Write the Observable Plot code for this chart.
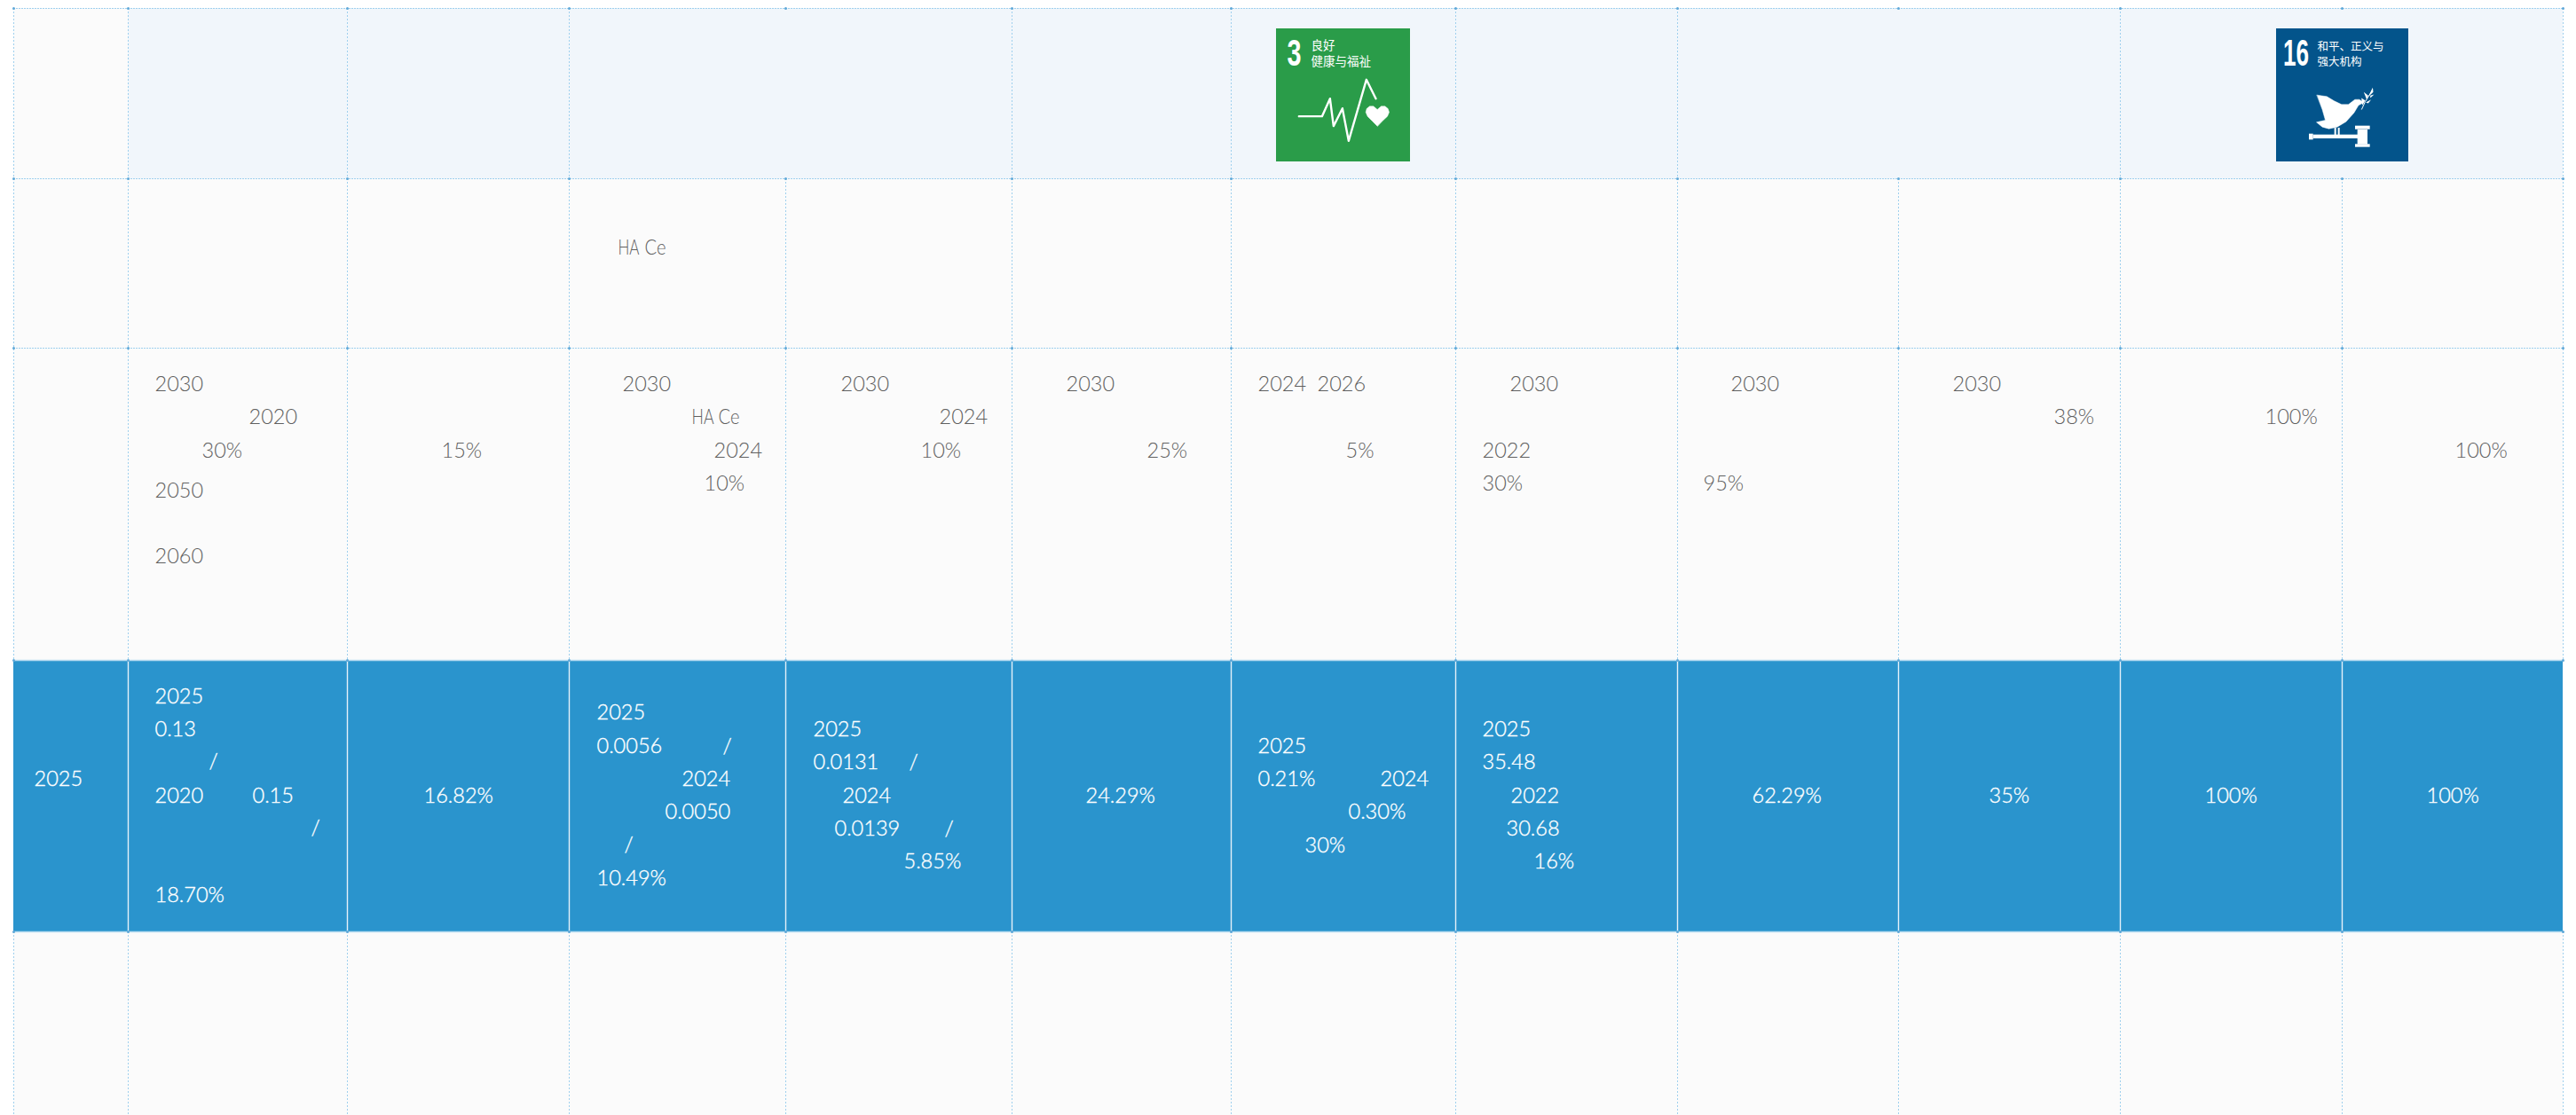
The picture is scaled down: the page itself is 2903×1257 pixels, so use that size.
<!DOCTYPE html>
<html>
<head>
<meta charset="utf-8">
<script src="https://cdn.jsdelivr.net/npm/d3@7"></script>
<script src="https://cdn.jsdelivr.net/npm/@observablehq/plot@0.6"></script>
<style>
html,body{margin:0;padding:0;background:#fff;overflow:hidden}
svg{display:block}
</style>
</head>
<body>
<div id="chart"></div>
<script>
// Table grid edges
const colEdges = [15,144,391,641,885,1140,1387,1640,1890,2139,2389,2639,2888];
const rowEdges = [9,201,392,744,1050,1257];
// Columns whose left edge is drawn in the merged heading row
const headEdges = [15,144,391,641,1140,1387,1640,1890,2389,2888];

// Text in the target rows (grey)
const greyLabels = ["2030","2020","30%","2050","2060","15%","2030","2024","10%","2030","2024","10%","2030","25%","2024","2026","5%","2030","2022","30%","2030","95%","2030","38%","100%","100%"];
const greyLeft   = [174,280,227,174,174,497,701,804,793,947,1058,1037,1201,1292,1417,1484,1516,1701,1670,1670,1950,1919,2200,2314,2552,2766];
const greyMid    = [433,470,508,553,627,508,433,508,545,433,470,508,433,508,433,433,508,433,508,545,433,545,433,470,470,508];
// Narrow "HA Ce" fragments
const narrowLabels = ["HA","Ce","HA","Ce"];
const narrowLeft   = [696,726,779,809];
const narrowMid    = [279,279,470,470];
const narrowSpan   = [24,24,25,24];

// Text in the highlighted 2025 row (white)
const whiteLabels = ["2025","2025","0.13","/","2020","0.15","/","18.70%","16.82%","2025","0.0056","/","2024","0.0050","/","10.49%","2025","0.0131","/","2024","0.0139","/","5.85%","24.29%","2025","0.21%","2024","0.30%","30%","2025","35.48","2022","30.68","16%","62.29%","35%","100%","100%"];
const whiteLeft   = [38,174,174,235,174,284,350,174,477,672,672,814,768,749,703,672,916,916,1024,949,940,1064,1018,1223,1417,1417,1555,1519,1470,1670,1670,1702,1697,1728,1974,2241,2484,2734];
const whiteMid    = [878,785,822,858,897,897,933,1009,897,803,841,841,878,915,952,990,822,859,859,897,934,934,971,897,841,878,878,915,953,822,859,897,934,971,897,897,897,897];

// SDG badges
const badgeBoxes = [
  {x1:1438,x2:1589,y1:32,y2:182,fill:"#2a9c49"},
  {x1:2565,x2:2714,y1:32,y2:182,fill:"#03548b"}
];
const badgeNumbers = [
  {t:"3",x:1458,y:60,s:42,len:16},
  {t:"16",x:2587,y:60,s:42,len:29}
];
const badgeTexts = [
  {t:"良好",x:1477,y:51,s:13.5},
  {t:"健康与福祉",x:1477,y:69,s:13.5},
  {t:"和平、正义与",x:2611,y:52,s:12.5},
  {t:"强大机构",x:2611,y:69,s:12.5}
];
// Badge artwork in the badge's own 3x units
const pulse = [[490,392],[568,392],[595,332],[607,425],[637,365],[658,475],[718,268],[750,332]];
const heart = [[755,425],[738,408],[722,392],[716,378],[719,366],[729,358],[742,358],[755,369],[768,358],[781,358],[791,366],[795,378],[789,392],[772,408]];
const dove  = [[632,320],[665,325],[690,340],[715,352],[738,352],[760,335],[775,335],[790,345],[772,355],[757,380],[730,410],[700,428],[672,434],[650,428],[630,412],[660,405],[650,370]];
const branch = [[783,368],[795,342],[820,302]];
const leaves = [[[800,335],[790,310],[805,322]],[[806,325],[820,295],[822,310]],[[812,322],[825,318],[812,330]],[[797,345],[815,335],[805,348]],[[785,355],[782,330],[795,338]]];
const gavelParts = [
  [606,620,452,472],[620,772,455,468],[692,698,432,456],[704,710,432,456],
  [770,804,438,488],[762,812,425,437],[762,812,487,497]
];
const sx = (v) => 1300 + v / 3;
const bx = (v) => 2400 + v / 3;
const sy = (v) => v / 3;

const cellRect = (x1, x2, y1, y2, fill) => ({x1, x2, y1, y2, fill});
const left = colEdges[0], right = colEdges[colEdges.length - 1];
const bands = [
  cellRect(left, colEdges[1], rowEdges[0], rowEdges[1], "#fbfbfb"),
  cellRect(colEdges[1], right, rowEdges[0], rowEdges[1], "#f1f6fb"),
  cellRect(left, right, rowEdges[1], rowEdges[3], "#fbfbfb"),
  cellRect(left, right, rowEdges[3], rowEdges[4], "#2a94cd"),
  cellRect(left, right, rowEdges[4], rowEdges[5], "#fbfbfb")
];
const vLines = [];
headEdges.forEach(x => vLines.push({x, y1: rowEdges[0], y2: rowEdges[1]}));
colEdges.forEach(x => {
  vLines.push({x, y1: rowEdges[1], y2: rowEdges[3]});
  vLines.push({x, y1: rowEdges[4], y2: rowEdges[5]});
});
const crossings = [];
rowEdges.slice(0, 5).forEach(y => colEdges.forEach(x => crossings.push({x, y})));
const grid = "#9fd0ee";
const pick = (a, f) => a.map(p => ({x: f(p[0]), y: sy(p[1])}));

const textRows = (labels, lefts, mids, fill, extra = {}) => Plot.text(labels.map((t, i) => ({t, x: lefts[i], y: mids[i]})), {
  x: "x", y: "y", text: "t", fill, textAnchor: "start", lineAnchor: "middle",
  fontFamily: "Lato", fontWeight: 300, fontSize: 23.5, ...extra
});
// Squeeze a text mark's strings to a given horizontal extent
const fitted = (lengths) => function(index, scales, values, dimensions, context, next) {
  const g = next(index, scales, values, dimensions, context);
  d3.select(g).selectAll("text").each(function(i) {
    this.setAttribute("textLength", lengths[i]);
    this.setAttribute("lengthAdjust", "spacingAndGlyphs");
  });
  return g;
};

const chart = Plot.plot({
  width: 2903,
  height: 1257,
  margin: 0,
  style: {background: "#fff"},
  x: {axis: null, domain: [0, 2903], range: [0, 2903]},
  y: {axis: null, domain: [0, 1257], range: [0, 1257]},
  marks: [
    Plot.rect(bands, {x1: "x1", x2: "x2", y1: "y1", y2: "y2", fill: "fill"}),
    Plot.ruleY(rowEdges.slice(0, 5), {x1: left, x2: right, stroke: grid, strokeWidth: 1.2, strokeDasharray: "2,1"}),
    Plot.ruleX(vLines, {x: "x", y1: "y1", y2: "y2", stroke: grid, strokeWidth: 1, strokeDasharray: "2,2"}),
    Plot.ruleX(colEdges.slice(1, -1), {y1: rowEdges[3], y2: rowEdges[4], stroke: "#e4f1f9", strokeWidth: 1.4}),
    Plot.ruleY([rowEdges[3], rowEdges[4]], {x1: left, x2: right, stroke: "#b5daf0", strokeWidth: 1.5}),
    Plot.dot(crossings, {x: "x", y: "y", r: 1.5, fill: "#5fa8d8"}),
    Plot.rect(badgeBoxes, {x1: "x1", x2: "x2", y1: "y1", y2: "y2", fill: "fill"}),
    Plot.text(badgeNumbers, {x: "x", y: "y", text: "t", fontSize: "s", fill: "#fff", fontWeight: 700, fontFamily: "Liberation Sans", lineAnchor: "middle", render: fitted(badgeNumbers.map(d => d.len))}),
    Plot.text(badgeTexts, {x: "x", y: "y", text: "t", fontSize: "s", fill: "#fff", fontFamily: "Noto Sans CJK SC", textAnchor: "start", lineAnchor: "middle"}),
    Plot.line(pick(pulse, sx), {x: "x", y: "y", stroke: "#fff", strokeWidth: 2.4, strokeLinejoin: "round"}),
    Plot.line(pick(heart, sx), {x: "x", y: "y", fill: "#fff", stroke: "#fff", strokeWidth: 0.5, curve: "linear-closed"}),
    Plot.line(pick(dove, bx), {x: "x", y: "y", fill: "#fff", stroke: "#fff", strokeWidth: 0.5, curve: "linear-closed"}),
    Plot.line(pick(branch, bx), {x: "x", y: "y", stroke: "#fff", strokeWidth: 1}),
    ...leaves.map(l => Plot.line(pick(l, bx), {x: "x", y: "y", fill: "#fff", stroke: "none", curve: "linear-closed"})),
    Plot.rect(gavelParts, {x1: d => bx(d[0]), x2: d => bx(d[1]), y1: d => sy(d[2]), y2: d => sy(d[3]), fill: "#fff"}),
    textRows(greyLabels, greyLeft, greyMid, "#606060"),
    textRows(narrowLabels, narrowLeft, narrowMid, "#606060", {render: fitted(narrowSpan)}),
    textRows(whiteLabels, whiteLeft, whiteMid, "#fff", {stroke: "#fff", strokeWidth: 0.35})
  ]
});
document.getElementById("chart").appendChild(chart);
</script>
</body>
</html>
